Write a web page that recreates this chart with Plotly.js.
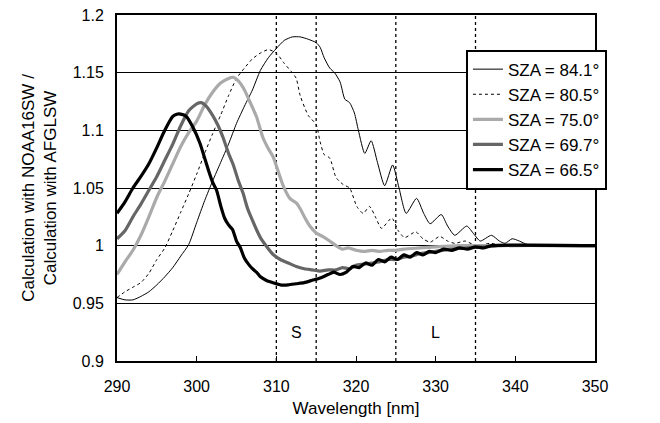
<!DOCTYPE html>
<html>
<head>
<meta charset="utf-8">
<script src="https://cdn.plot.ly/plotly-3.0.1.min.js"></script>
<style>html,body{margin:0;padding:0;background:#fff;}#chart{width:660px;height:423px;}</style>
</head>
<body>
<div id="chart"></div>
<script>
// ---- Data ----
const seriesNames = ['SZA = 84.1°', 'SZA = 80.5°', 'SZA = 75.0°', 'SZA = 69.7°', 'SZA = 66.5°'];

const wl841 = [290,291,292,293,294,295,296,297,298,299,300,301,302,303,304,305,306,307,308,309,310,311,312,313,314,315,315.5,316,316.7,317.3,318,318.6,319.2,319.8,320.3,321.1,321.9,322.7,323.6,324.6,325.4,326.3,327.6,328.5,329.3,330.7,331.5,332.4,333.9,334.8,335.6,337,338,338.7,339.6,340.5,341.5,342.5,345,350];
const val841 = [0.955,0.953,0.953,0.956,0.960,0.966,0.973,0.981,0.991,1.001,1.020,1.039,1.056,1.072,1.088,1.106,1.121,1.135,1.152,1.163,1.171,1.178,1.181,1.181,1.179,1.176,1.172,1.163,1.154,1.150,1.142,1.127,1.124,1.115,1.100,1.080,1.091,1.072,1.052,1.070,1.050,1.028,1.041,1.028,1.019,1.027,1.017,1.009,1.017,1.010,1.004,1.009,1.004,1.002,1.006,1.004,1.001,1.000,1.000,1.000];

const wl805 = [290,291,292,293,294,295,296,297,298,299,300,301,302,303,304,305,306,307,308,309,310,311,312,312.5,313,314,315,315.5,316,316.7,317.5,318.4,319.2,320.1,320.9,321.7,322.5,323.2,324.5,325.3,326.1,327.5,328.4,329.3,330.5,331.5,332.4,333.7,335.1,336.8,338.9,342,350];
const val805 = [0.955,0.960,0.964,0.968,0.976,0.988,0.998,1.013,1.029,1.045,1.062,1.080,1.097,1.113,1.130,1.145,1.154,1.162,1.167,1.170,1.167,1.158,1.150,1.145,1.130,1.113,1.105,1.090,1.079,1.076,1.059,1.053,1.050,1.034,1.028,1.034,1.024,1.015,1.024,1.013,1.007,1.012,1.006,1.003,1.008,1.004,1.002,1.004,1.000,1.002,1.000,1.000,1.000];

const wl750 = [290,291,292,293,294,295,296,297,298,299,300,301,302,303,304,304.6,305.2,306,306.6,307.5,308.3,309,309.6,310.3,310.8,311.7,312.5,313,313.6,314.2,315,315.8,316.7,317.5,318.3,319,320,321,322,323,324,325,326,328,330,333,350];
const val750 = [0.975,0.986,0.996,1.009,1.025,1.042,1.056,1.071,1.086,1.098,1.108,1.122,1.133,1.141,1.145,1.146,1.143,1.135,1.126,1.112,1.094,1.084,1.077,1.063,1.053,1.041,1.037,1.032,1.024,1.017,1.011,1.008,1.004,1.000,0.997,0.998,0.996,0.995,0.996,0.995,0.996,0.996,0.997,0.998,0.999,1.000,1.000];

const wl697 = [290,291,292,293,294,295,296,297,298,299,300,300.6,301.2,302,302.7,303.3,304,304.6,305.2,305.8,306.4,307,307.5,308,308.7,309.5,310.5,311.5,312.5,313.5,314.5,315.5,316.5,317.5,318.3,319.2,320,321,322,323,324,325,326,327,328,329,330,332,334,336,338,350];
const val697 = [1.006,1.013,1.025,1.036,1.048,1.060,1.074,1.088,1.104,1.117,1.123,1.124,1.121,1.113,1.104,1.094,1.080,1.070,1.057,1.046,1.032,1.022,1.014,1.007,1.000,0.993,0.988,0.985,0.982,0.980,0.979,0.978,0.979,0.979,0.981,0.980,0.983,0.984,0.985,0.986,0.988,0.988,0.990,0.991,0.993,0.994,0.995,0.997,0.998,0.999,1.000,1.000];

const wl665 = [290,291,292,293,294,295,296,297,297.5,298,298.7,299.5,300.4,301,301.5,302,302.5,303,303.5,304,304.5,305,305.5,306,306.5,307,307.5,308,308.7,309.5,310.5,311.5,312.5,313.5,314.5,315.5,316.5,317.2,318,318.8,319.6,320.4,321.2,322,322.8,323.6,324.4,325.2,326,326.8,327.6,328.4,329.2,330,331,332,333,334,335,336,337,350];
const val665 = [1.028,1.038,1.050,1.060,1.071,1.085,1.100,1.112,1.114,1.114,1.112,1.103,1.089,1.076,1.065,1.055,1.048,1.035,1.024,1.018,1.014,1.004,0.998,0.989,0.984,0.980,0.977,0.973,0.970,0.968,0.966,0.966,0.967,0.968,0.970,0.972,0.975,0.977,0.975,0.977,0.982,0.981,0.985,0.983,0.988,0.986,0.990,0.988,0.992,0.990,0.994,0.992,0.995,0.994,0.997,0.996,0.998,0.997,0.999,0.998,1.000,1.000];

const xTicks = [290,300,310,320,330,340,350];
const yTicks = [0.9,0.95,1.0,1.05,1.1,1.15,1.2];
const yTickText = ['0.9','0.95','1','1.05','1.1','1.15','1.2'];
const bandEdges = [310,315,325,335];
const bandLabels = ['S','L'];
const bandLabelX = [312.5,330];
const bandLabelY = 0.925;

// ---- Styles ----
const styles = [
  {color:'#000000', width:1, dash:'solid'},
  {color:'#000000', width:1, dash:'dot'},
  {color:'#aaaaaa', width:3.2, dash:'solid'},
  {color:'#666666', width:3.2, dash:'solid'},
  {color:'#000000', width:3.2, dash:'solid'}
];
const xs = [wl841, wl805, wl750, wl697, wl665];
const ys = [val841, val805, val750, val697, val665];

const traces = seriesNames.map((n,i) => ({
  type:'scatter', mode:'lines', name:n, x:xs[i], y:ys[i],
  line:{color:styles[i].color, width:styles[i].width, dash:styles[i].dash, shape:'spline', smoothing:0.6}
}));

const FONT = 'Liberation Sans, Arial, Helvetica, sans-serif';

const layout = {
  width:660, height:423,
  margin:{l:117, r:65, t:15, b:62},
  paper_bgcolor:'#ffffff', plot_bgcolor:'#ffffff',
  font:{family:FONT, color:'#000000', size:16},
  showlegend:true,
  legend:{x:0.73, y:0.9, xanchor:'left', yanchor:'top', bgcolor:'#ffffff', bordercolor:'#000000', borderwidth:2, font:{family:FONT, size:17, color:'#000'}},
  xaxis:{
    range:[290,350], tickvals:xTicks, ticks:'inside', ticklen:5, tickwidth:1, tickcolor:'#000',
    showline:true, linewidth:2, linecolor:'#000', mirror:true, showgrid:false, zeroline:false,
    tickfont:{size:16}, ticklabelstandoff:10,
    title:{text:'Wavelength [nm]', font:{size:17}, standoff:8}
  },
  yaxis:{
    range:[0.9,1.2], tickvals:yTicks, ticktext:yTickText, ticks:'inside', ticklen:5, tickwidth:1, tickcolor:'#000',
    showline:true, linewidth:2, linecolor:'#000', mirror:true, showgrid:true, gridcolor:'#000', gridwidth:1, zeroline:false,
    tickfont:{size:16}, ticklabelstandoff:8,
    title:{text:'Calculation with NOAA16SW /<br>Calculation with AFGLSW', font:{size:17}, standoff:12}
  },
  shapes: bandEdges.map(x => ({type:'line', xref:'x', yref:'paper', x0:x, x1:x, y0:0, y1:1, layer:'below', line:{color:'#000', width:1.3, dash:'dot'}})),
  annotations: bandLabels.map((t,i) => ({x:bandLabelX[i], y:bandLabelY, xref:'x', yref:'y', text:t, showarrow:false, font:{size:16, color:'#000'}}))
};

Plotly.newPlot('chart', traces, layout, {displayModeBar:false, staticPlot:true});
</script>
</body>
</html>
